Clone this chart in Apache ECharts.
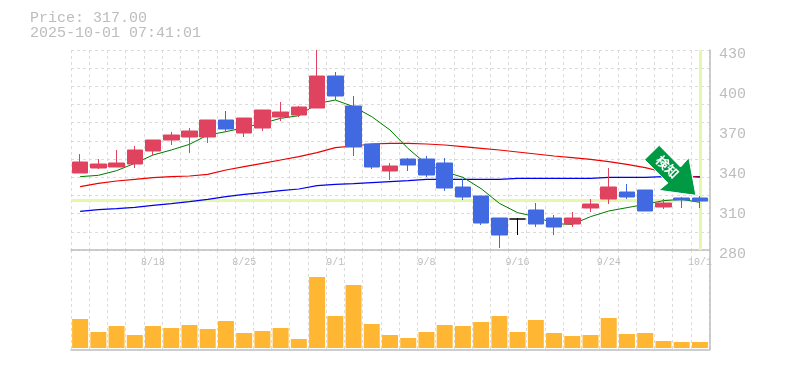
<!DOCTYPE html>
<html>
<head>
<meta charset="utf-8">
<style>html,body{margin:0;padding:0;background:#fff}#c{width:785px;height:370px}</style>
<script src="https://cdn.jsdelivr.net/npm/echarts@6/dist/echarts.min.js"></script>
</head>
<body>
<div id="c"></div>
<script>
const dates = ['8/12','8/13','8/14','8/15','8/18','8/19','8/20','8/21','8/22','8/25','8/26','8/27','8/28','8/29','9/1','9/2','9/3','9/4','9/5','9/8','9/9','9/10','9/11','9/12','9/16','9/17','9/18','9/19','9/22','9/24','9/25','9/26','9/29','9/30','10/1'];
const tickLabels = ['8/18','8/25','9/1','9/8','9/16','9/24','10/1'];
const opens  = [337.75,341.5,342.25,344.5,354.25,362.5,364.75,364.75,377.5,367.75,371.5,379.75,381.25,386.5,410.5,388,359.5,339.25,348.25,348.25,345.25,327.25,320.5,304,303.25,310,304,299.5,311.5,318.25,323.5,325,312.25,319,319];
const closes = [346,344.5,345.25,355,362.5,366.25,369.25,377.5,370.75,379,385,383.5,387.25,410.5,395.5,357.25,342.25,343,343.75,336.25,326.5,319.75,300.25,291.25,303.25,299.5,297.25,304,314.5,327.25,319.75,309.25,315.25,317.5,316.75];
const lows   = [337.75,340.75,342.25,341.5,350.5,358.75,352.75,360.25,369.25,364.75,369.25,376.75,379.75,386.5,392.5,350.5,340.75,332.5,339.25,334.75,324.25,317.5,298.75,281.5,291.25,297.25,291.25,297.25,308.5,314.5,318.25,309.25,310.75,311.5,311.5];
const highs  = [352,348.25,355,358,362.5,368.5,371.5,377.5,384.25,379,385,391,388,430,413.5,395.5,359.5,345.25,349,350.5,349,333.25,320.5,304,304,315.25,306.25,308.5,318.25,341.5,329.5,325,318.25,319.75,320.5];
const maShort = [335,336,339.5,345,351.25,355,359.25,366.25,368.75,371.75,375,378.75,380.75,389.75,392.5,387.5,380,370,356,344.5,338.75,334.5,326,315,308,305,299.75,299.25,305,309.25,311.75,314.25,317,318,315.75];
const maMid   = [327.5,330,331.75,333,334.25,335,335.5,336.75,340,342.5,345,347.5,350,353,356.75,358,359.5,360,360,359.5,358.75,357.5,356.25,355,353.5,352,350.5,349.25,348,346.25,344.25,341.75,338.5,336,334.5];
const maLong  = [309,310.25,311,312,313.5,314.75,316.25,318,320,321.75,323,324.5,325.75,328.25,329.25,329.75,330.5,331.25,332,333,333,333,333,333,333.75,333.75,333.75,333.75,333.75,334.5,334.5,334.5,335,335,335];
const volumes = [29,16,22,13,22,20,23,19,27,15,17,20,9,71,32,63,24,13,10,16,23,22,26,32,16,28,15,12,13,30,14,15,7,6,6];
const lastPrice = 317;
const headline = 'Price: 317.00\n2025-10-01 07:41:01';
const arrowText = '検知';

const GRAY = '#bdbdbd', RED = '#e0435f', BLUE = '#4169e1', HL = '#e4f7ab';
const dash = {color:'#dcdcdc', type:[3,3], width:1};
const mono = '"Liberation Mono", monospace';

const candleData = dates.map((d,i)=>{
  const v=[opens[i],closes[i],lows[i],highs[i]];
  if(opens[i]===closes[i]) return {value:v,itemStyle:{color:'#000',color0:'#000',borderColor:'#000',borderColor0:'#000',borderColorDoji:'#000'}};
  return v;
});
const line = (name,data,color,width)=>({name,type:'line',data,xAxisIndex:0,yAxisIndex:0,symbol:'none',z:2,silent:true,animation:false,
  lineStyle:{color,width},connectNulls:false});

const chart = echarts.init(document.getElementById('c'),null,{renderer:'canvas'});
chart.setOption({
  animation:false,
  backgroundColor:'#fff',
  title:{text:headline,left:30,top:11,padding:0,textStyle:{color:GRAY,fontFamily:mono,fontSize:15,fontWeight:'normal',lineHeight:15}},
  grid:[
    {left:71,top:50,width:638,height:200,containLabel:false},
    {left:71,top:250,width:638,height:100,containLabel:false}
  ],
  xAxis:[
    {type:'category',gridIndex:0,data:dates,boundaryGap:true,
      axisTick:{show:false},axisLine:{show:true,onZero:false,lineStyle:{color:GRAY,width:1.5}},
      axisLabel:{interval:(i,v)=>tickLabels.includes(v),color:GRAY,fontFamily:mono,fontSize:10,margin:7,hideOverlap:false},
      splitLine:{show:true,interval:0,lineStyle:dash}},
    {type:'category',gridIndex:1,data:dates,boundaryGap:true,
      axisTick:{show:false},axisLine:{show:true,onZero:false,lineStyle:{color:GRAY,width:1.5}},
      axisLabel:{show:false},splitLine:{show:true,interval:0,lineStyle:dash}}
  ],
  yAxis:[
    {type:'value',gridIndex:0,min:280,max:430,interval:30,position:'right',offset:1,
      axisLine:{show:true,lineStyle:{color:GRAY,width:1.5}},axisTick:{show:false},
      axisLabel:{color:GRAY,fontFamily:mono,fontSize:15,margin:9,verticalAlign:'top',lineHeight:8},
      splitLine:{show:false}},
    {type:'value',gridIndex:0,min:0,max:11,interval:1,position:'left',
      axisLine:{show:false},axisTick:{show:false},axisLabel:{show:false},
      splitLine:{show:true,lineStyle:dash}},
    {type:'value',gridIndex:1,min:-2,max:98,position:'right',offset:1,
      axisLine:{show:true,lineStyle:{color:GRAY,width:1.5}},axisTick:{show:false},axisLabel:{show:false},splitLine:{show:false}}
  ],
  series:[
    {name:'highlight',type:'line',data:[],xAxisIndex:0,yAxisIndex:0,silent:true,z:1,
      markLine:{silent:true,symbol:'none',z:1,animation:false,label:{show:false},
        lineStyle:{color:HL,width:3,type:'solid'},
        emphasis:{disabled:true},
        data:[{yAxis:lastPrice},{xAxis:dates[dates.length-1]}]}},
    line('MA long',maLong,'#0000ee',1.2),
    line('MA mid',maMid,'#ee0000',1.2),
    line('MA short',maShort,'#007a00',1),
    {name:'Price',type:'candlestick',xAxisIndex:0,yAxisIndex:0,data:candleData,barWidth:16,z:3,silent:true,clip:true,
      itemStyle:{color:RED,color0:BLUE,borderColor:RED,borderColor0:BLUE,borderWidth:1}},
    {name:'Volume',type:'bar',xAxisIndex:1,yAxisIndex:2,data:volumes,barWidth:16,silent:true,
      itemStyle:{color:'#ffb733'}}
  ]
});

// Signal arrow anchored to the last candle
const tip = chart.convertToPixel({xAxisIndex:0,yAxisIndex:0},[dates[dates.length-1],321]);
tip[0] -= 4;
const rel = [[-36.7,-50],[-51.3,-35.7],[-28,-12.3],[-37,-5],[0,0],[-7,-37.7],[-15.3,-28.3]];
chart.setOption({graphic:[
  {type:'polygon',z:50,silent:true,shape:{points:rel.map(p=>[tip[0]+p[0],tip[1]+p[1]])},
    style:{fill:'#009944',stroke:'#fff',lineWidth:1}},
  {type:'text',z:51,silent:true,x:tip[0]-28.5,y:tip[1]-28.5,rotation:-Math.PI/4,
    style:{text:arrowText,fill:'#fff',font:'bold 13px "Noto Sans CJK JP"',align:'center',verticalAlign:'middle'}}
]});
</script>
</body>
</html>
